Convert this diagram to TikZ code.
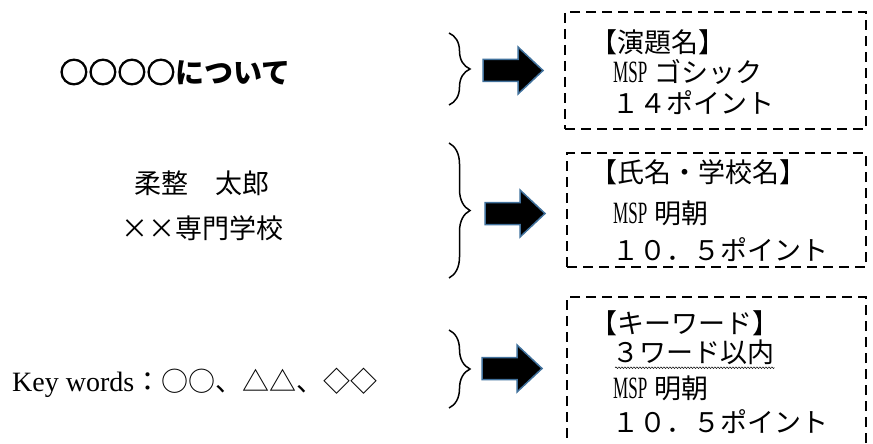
\documentclass[tikz,border=0pt]{standalone}
\usepackage{fontspec}
\newfontfamily\jp{Noto Sans CJK JP}
\newfontfamily\latn[FakeStretch=0.55]{Liberation Serif}
\newfontfamily\kwlatn{Liberation Serif}
\usetikzlibrary{decorations.pathreplacing,decorations.pathmorphing}

\definecolor{arrowrim}{RGB}{65,113,156}
\newcommand{\bodysize}{\fontsize{27}{27}\selectfont}
\newcommand{\msp}{{\latn\fontsize{31}{31}\selectfont MSP}\hspace{7pt}}

\tikzstyle{line}=[anchor=west,inner sep=0pt,font=\jp\bodysize,text height=23.8pt,text depth=3.2pt]
\tikzstyle{sample}=[inner sep=0pt,font=\jp\bodysize]
\tikzstyle{infobox}=[draw,dash pattern=on 10pt off 6pt,line width=2.5pt,inner sep=0pt]
\tikzstyle{blockarrow}=[fill=black,draw=arrowrim,line width=1.5pt,line join=miter]
\tikzstyle{grouping}=[decorate,decoration={brace,amplitude=21pt},line width=1.5pt]
\tikzstyle{wavy}=[decorate,decoration={snake,amplitude=0.8pt,segment length=3pt},line width=0.5pt]

\begin{document}
\begin{tikzpicture}[x=1pt, y=-1pt]
    \useasboundingbox (0,0) rectangle (873,444);
    \clip (0,0) rectangle (873,444);

    % First we draw the sample page on the left
    \node[sample, font=\jp\bfseries\fontsize{29}{29}\selectfont] (title) at (175,72)
        {{\addfontfeature{FakeBold=3}○○○○}について};
    \node[sample] (author) at (202,183) {柔整　太郎};
    \node[sample] (school) at (202,228) {××専門学校};
    \node[anchor=west, inner sep=0pt] (keywords) at (12,383)
        {{\kwlatn\fontsize{28}{28}\selectfont Key words}{\jp\bodysize：○○、△△、◇◇}};

    % Braces and block arrows
    \foreach \top/\bot in {33/105, 143/278, 330/408}
        \draw[grouping] (449,\top) -- (449,\bot);
    \foreach \x/\y in {483/70.5, 485/213.5, 482/368.5}
        \draw[blockarrow] (\x,\y-11) -- ++(35,0) -- ++(0,-12.5) -- ++(25,23.5)
            -- ++(-25,23.5) -- ++(0,-12.5) -- ++(-35,0) -- cycle;

    % Dashed boxes with the notes
    \node[infobox, minimum width=301pt, minimum height=117pt] (boxtitle) at (715.5,70.5) {};
    \node[infobox, minimum width=299pt, minimum height=114pt] (boxname) at (716.5,210) {};
    \node[infobox, minimum width=299pt, minimum height=183pt] (boxkey) at (716.5,388.5) {};

    \node[line] (ta) at (590,42) {【演題名】};
    \node[line] (tb) at (613,72) {\msp ゴシック};
    \node[line] (tc) at (612,103) {１４ポイント};

    \node[line] (na) at (590,172) {【氏名・学校名】};
    \node[line] (nb) at (613,213) {\msp 明朝};
    \node[line] (nc) at (612,250) {１０．５ポイント};

    \node[line] (ka) at (590,323) {【キーワード】};
    \node[line] (kb) at (612,352) {３ワード以内};
    \node[line] (kc) at (613,388) {\msp 明朝};
    \node[line] (kd) at (612,422) {１０．５ポイント};

    \draw[wavy] ([xshift=3pt,yshift=-2pt]kb.south west) -- ([yshift=-2pt]kb.south east);
\end{tikzpicture}
\end{document}
